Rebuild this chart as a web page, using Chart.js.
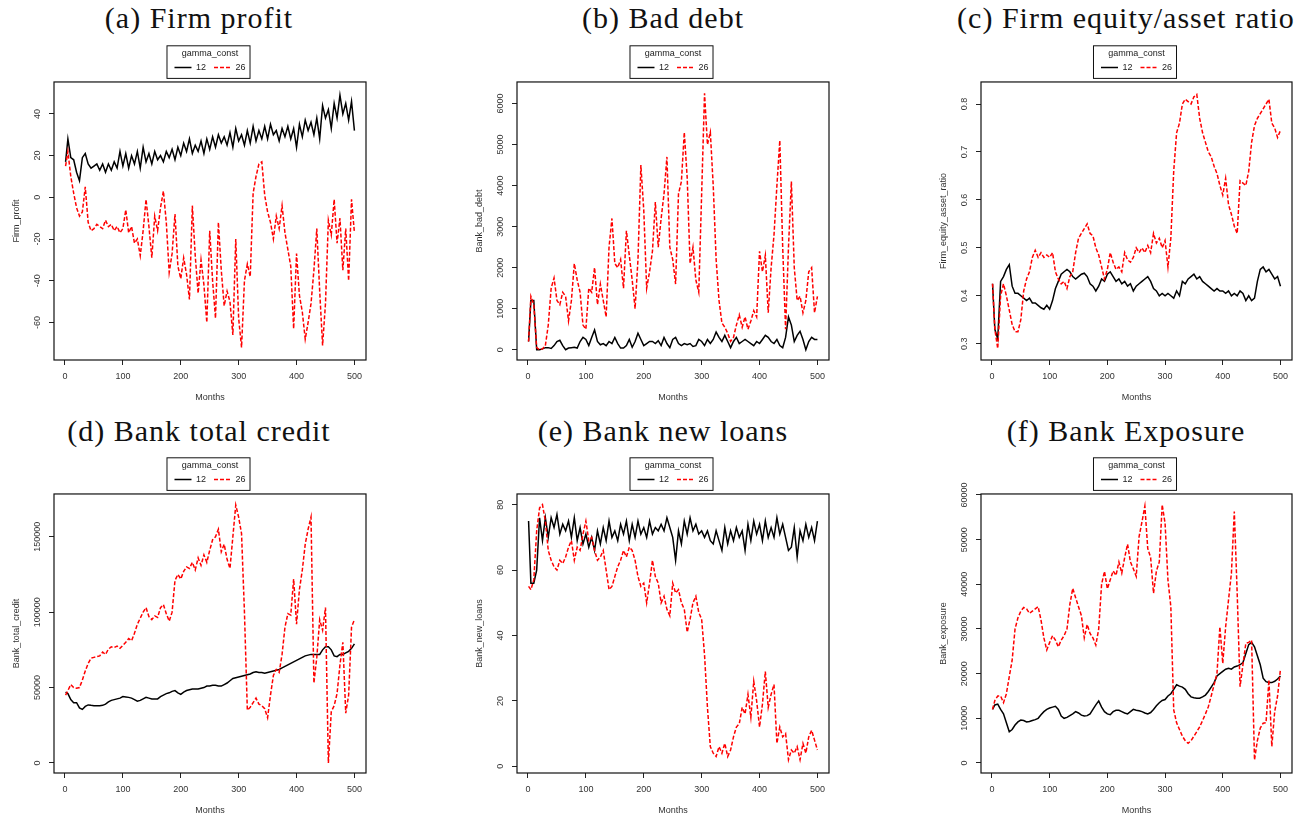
<!DOCTYPE html>
<html>
<head>
<meta charset="utf-8">
<script src="https://cdn.jsdelivr.net/npm/chart.js@4.4.1/dist/chart.umd.min.js"></script>
<style>
  body { margin: 0; background: #fff; width: 1316px; height: 823px; position: relative; overflow: hidden; }
  canvas { position: absolute; }
  .cap { position: absolute; font-family: "Liberation Serif", serif; font-size: 30px; line-height: 30px;
         letter-spacing: 1px; color: #111; white-space: nowrap; transform: translateX(-50%); }
</style>
</head>
<body>
<div class="cap" style="left:199px;top:3px">(a) Firm profit</div>
<div class="cap" style="left:663px;top:3px">(b) Bad debt</div>
<div class="cap" style="left:1126px;top:3px">(c) Firm equity/asset ratio</div>
<div class="cap" style="left:199px;top:416px">(d) Bank total credit</div>
<div class="cap" style="left:663px;top:416px">(e) Bank new loans</div>
<div class="cap" style="left:1126px;top:416px">(f) Bank Exposure</div>
<canvas id="pa"></canvas>
<canvas id="pb"></canvas>
<canvas id="pc"></canvas>
<canvas id="pd"></canvas>
<canvas id="pe"></canvas>
<canvas id="pf"></canvas>
<script>
const months = [1,5,10,15,20,25,30,35,40,45, 50,55,60,65,70,75,80,85,90,95,
  100,105,110,115,120,125,130,135,140,145, 150,155,160,165,170,175,180,185,190,195,
  200,205,210,215,220,225,230,235,240,245, 250,255,260,265,270,275,280,285,290,295,
  300,305,310,315,320,325,330,335,340,345, 350,355,360,365,370,375,380,385,390,395,
  400,405,410,415,420,425,430,435,440,445, 450,455,460,465,470,475,480,485,490,495, 500];

const monthTicks = [0, 100, 200, 300, 400, 500];

// (a) Firm profit
const profit12 = [17,28,19,18,12,8,19,21,16,14, 15,16,13,16,12,16,13,17,14,22,
  15,21,14,20,16,22,14,24,17,21, 16,22,18,20,17,22,19,23,18,24,
  20,26,22,28,21,25,22,27,21,28, 23,29,24,30,26,29,25,31,24,33,
  27,30,25,32,26,34,27,32,28,34, 28,35,30,32,27,33,29,34,28,33,
  24,35,29,37,32,36,30,38,28,44, 38,42,33,45,38,49,40,45,37,46, 32];
const profit26 = [15,22,10,2,-5,-9,-7,5,-12,-16, -15,-13,-14,-15,-11,-14,-13,-16,-14,-17,
  -15,-6,-17,-14,-22,-20,-28,-16,-1,-14, -29,-9,-16,-5,3,-12,-36,-27,-8,-33,
  -39,-29,-37,-49,-4,-28,-46,-30,-42,-60, -16,-40,-58,-12,-35,-52,-45,-50,-66,-20,
  -58,-72,-40,-32,-38,2,10,16,17,1, -7,-12,-20,-9,-15,-4,-17,-25,-33,-63,
  -27,-47,-55,-68,-60,-51,-35,-15,-45,-71, -51,-11,-18,-1,-22,-10,-35,-15,-40,-1, -17];
const profitTicks = [-60, -40, -20, 0, 20, 40];

// (b) Bad debt
const badDebt12 = [200,1200,1200,0,0,20,50,50,30,100, 200,230,100,0,40,50,60,40,200,300,
  250,100,300,480,200,120,150,100,200,150, 300,150,40,40,100,250,60,200,400,250,
  100,150,200,200,150,220,100,300,150,50, 250,300,150,100,150,120,150,80,100,250,
  200,100,250,150,250,430,300,200,350,200, 50,200,300,150,200,250,200,150,100,200,
  150,250,350,300,200,150,250,100,50,300, 800,600,200,350,450,250,0,200,300,250, 250];
const badDebt26 = [200,1300,1100,50,0,20,100,600,1500,1750, 1200,1100,1400,1300,700,1200,2100,1700,1400,600,
  500,1500,1400,2000,1100,1600,1200,800,2500,3200, 2100,2000,2200,1500,2900,2300,1700,1000,2200,4500,
  3400,1500,1900,2400,3600,2500,3200,3800,4700,2500, 2200,1600,3800,4100,5300,4200,2100,2500,1700,1400,
  3800,6250,5000,5300,4000,2200,1200,650,550,400, 200,300,600,850,550,800,500,700,950,800,
  2400,1900,2300,900,2000,2800,4000,5100,2500,500, 2500,4100,2000,1200,1300,900,1200,1900,2000,900, 1300];
const badDebtTicks = [0, 1000, 2000, 3000, 4000, 5000, 6000];

// (c) Firm equity/asset ratio
const equity12 = [0.425,0.33,0.31,0.43,0.44,0.455,0.465,0.42,0.405,0.405,
  0.40,0.395,0.39,0.395,0.385,0.385,0.38,0.375,0.372,0.38,
  0.372,0.39,0.415,0.43,0.445,0.45,0.455,0.45,0.44,0.435,
  0.44,0.445,0.447,0.44,0.425,0.42,0.41,0.42,0.435,0.43,
  0.445,0.45,0.44,0.43,0.435,0.425,0.43,0.42,0.425,0.41,
  0.42,0.425,0.43,0.435,0.44,0.43,0.415,0.41,0.40,0.405,
  0.40,0.405,0.40,0.395,0.41,0.40,0.43,0.425,0.435,0.44,
  0.445,0.435,0.44,0.43,0.425,0.42,0.415,0.41,0.415,0.41,
  0.41,0.405,0.41,0.40,0.405,0.40,0.41,0.405,0.39,0.40,
  0.39,0.395,0.43,0.455,0.46,0.45,0.455,0.445,0.435,0.44, 0.42];
const equity26 = [0.425,0.33,0.29,0.40,0.425,0.40,0.37,0.34,0.325,0.325,
  0.35,0.41,0.435,0.45,0.48,0.495,0.48,0.49,0.48,0.485,
  0.48,0.49,0.45,0.435,0.425,0.43,0.415,0.44,0.45,0.49,
  0.52,0.53,0.54,0.55,0.53,0.525,0.50,0.485,0.46,0.435,
  0.455,0.49,0.47,0.455,0.46,0.45,0.49,0.475,0.47,0.48,
  0.50,0.49,0.50,0.49,0.505,0.49,0.53,0.51,0.52,0.50,
  0.515,0.46,0.52,0.66,0.74,0.76,0.80,0.81,0.805,0.80,
  0.815,0.82,0.77,0.74,0.72,0.70,0.69,0.67,0.655,0.63,
  0.61,0.645,0.59,0.57,0.545,0.53,0.64,0.635,0.63,0.66,
  0.72,0.755,0.77,0.78,0.79,0.80,0.81,0.76,0.75,0.73, 0.745];
const equityTicks = [0.3, 0.4, 0.5, 0.6, 0.7, 0.8];

// (d) Bank total credit
const credit12 = [47000,46000,42000,40000,40000,36500,35500,37500,38500,38200,
  38000,38000,38000,38200,39000,40500,41500,42000,42500,43000,
  44000,43800,43500,43000,42000,41000,41500,42500,43500,43000,
  42500,42500,42500,44000,45000,46000,46500,47500,48000,46500,
  45500,47000,48000,48500,49000,49000,49000,49500,50000,51000,
  51000,51500,51500,51000,51000,52000,53000,54500,56000,56500,
  57000,57500,58000,58500,59000,60000,60500,60000,60000,59500,
  60000,60500,61000,61500,62000,63000,64000,65000,66000,67000,
  68000,69000,70000,71000,71500,72000,72000,72000,72000,75000,
  77000,77000,75000,71000,70500,72000,72000,73000,74000,76000, 79000];
const credit26 = [45000,48000,52000,50000,49500,50000,55000,61000,66000,69500,
  70000,70500,71000,73500,72000,75500,77000,76500,77500,76000,
  78000,80000,82500,81000,86000,92000,96000,100000,103000,97000,
  95000,97500,96500,103000,105000,99000,94000,100000,121000,125000,
  122000,127000,130000,129000,133000,128000,136000,131000,138000,133000,
  141000,148000,150000,155000,140000,145000,135000,129000,150000,171000,
  163000,152000,100000,35000,37000,40000,43000,39000,38000,36000,
  30000,45000,58000,62000,60000,72000,90000,99000,98000,122000,
  92000,115000,128000,145000,155000,163000,53000,70000,95000,88000,
  103000,0,34000,38000,46000,65000,80000,33000,45000,90000, 95000];
const creditTicks = [0, 50000, 100000, 150000];

// (e) Bank new loans
const newLoans12 = [75,56,56,60,76,69,76,70,76,73, 77,71,74,72,75,70,76,69,73,68,
  71,67,70,66,72,68,73,69,75,70, 72,69,74,71,75,69,74,70,75,71,
  73,70,75,71,73,72,74,72,76,73, 70,63,72,68,75,71,76,72,74,71,
  72,70,72,69,68,72,69,66,73,68, 72,69,73,70,72,66,74,69,75,71,
  74,69,75,70,73,70,76,71,74,70, 66,67,73,64,72,69,74,70,73,69, 75];
const newLoans26 = [55,54,57,72,79,80,75,66,63,61, 60,63,62,64,67,69,63,67,66,71,
  75,69,70,66,63,64,66,60,54,55, 58,61,63,66,64,67,66,63,58,55,
  56,50,56,63,58,56,50,52,48,46, 56,53,54,50,48,41,45,50,52,47,
  45,34,18,6,4,3,6,4,7,3, 5,9,12,13,18,16,22,15,26,20,
  12,19,29,18,22,25,7,12,9,10, 2,5,4,6,2,7,4,9,11,8, 5];
const newLoansTicks = [0, 20, 40, 60, 80];

// (f) Bank exposure
const exposure12 = [12000,13000,13200,12000,11000,9000,7000,7500,8500,9200,
  9600,9500,9200,9300,9500,9700,10000,10800,11500,12000,
  12300,12500,12700,12000,10500,10000,10200,10600,11000,11500,
  11200,10700,10500,10600,11000,12000,13000,13900,12500,11500,
  11000,10800,11500,11800,11800,11500,11200,11000,11500,12000,
  11800,11700,11500,11200,11000,11300,12000,12800,13500,14000,
  14200,15000,15500,16500,17500,17200,17000,16500,15500,14800,
  14600,14500,14500,14800,15200,16000,17000,18000,19500,20000,
  20500,21000,21200,21000,21500,21700,22000,22500,24500,26500,
  27000,26000,24000,22000,19000,18200,18000,18000,18300,18800, 19500];
const exposure26 = [12000,14000,15000,15000,13500,15500,19350,23000,30000,32500,
  34000,34800,34500,33500,34000,34500,35000,32000,28000,25300,
  27000,28500,27500,26000,27500,28500,30000,35500,39100,37000,
  35000,33000,28000,31000,29000,28000,26400,30000,40000,42900,
  39000,41000,43000,42000,45000,42500,46000,49000,45000,43500,
  41800,50700,54000,57500,48000,46000,38000,43000,45000,57800,
  53700,41000,35000,11900,9000,7500,6000,5000,4400,5000,
  6000,7000,8100,9500,11000,12600,15000,17500,20100,30500,
  22300,30500,36500,42500,56300,38000,17100,22000,26800,27000,
  27500,700,5000,7800,8900,9000,18600,3700,11500,15000, 21000];
const exposureTicks = [0, 10000, 20000, 30000, 40000, 50000, 60000];

const panels = [
  { id: 'pa', left: 54, top: 82, w: 312, h: 278, ylab: 'Firm_profit', s12: profit12, s26: profit26, ticks: profitTicks, min: -78, max: 55.3 },
  { id: 'pb', left: 517, top: 82, w: 312, h: 278, ylab: 'Bank_bad_debt', s12: badDebt12, s26: badDebt26, ticks: badDebtTicks, min: -251, max: 6527 },
  { id: 'pc', left: 981, top: 82, w: 311, h: 278, ylab: 'Firm_equity_asset_ratio', s12: equity12, s26: equity26, ticks: equityTicks, min: 0.266, max: 0.846 },
  { id: 'pd', left: 54, top: 494, w: 312, h: 279, ylab: 'Bank_total_credit', s12: credit12, s26: credit26, ticks: creditTicks, min: -6640, max: 178340 },
  { id: 'pe', left: 517, top: 494, w: 312, h: 279, ylab: 'Bank_new_loans', s12: newLoans12, s26: newLoans26, ticks: newLoansTicks, min: -2.05, max: 83.27 },
  { id: 'pf', left: 981, top: 494, w: 311, h: 279, ylab: 'Bank_exposure', s12: exposure12, s26: exposure26, ticks: exposureTicks, min: -2240, max: 60224 }
];

Chart.defaults.font.family = 'Liberation Sans';
Chart.defaults.font.size = 9;

const TXT = '#333';
const MARGIN = 50;

// plot box, legend frame and R-style vertical y tick labels
const rFrame = {
  id: 'rFrame',
  afterDraw(chart) {
    const { ctx, chartArea: a, legend: lg } = chart;
    ctx.save();
    ctx.strokeStyle = '#111';
    ctx.lineWidth = 1.2;
    ctx.strokeRect(a.left, a.top, a.right - a.left, a.bottom - a.top);
    const hb = lg.legendHitBoxes;
    const last = hb[hb.length - 1];
    const l = hb[0].left - 7.5, r = last.left + last.width + 4.5;
    ctx.lineWidth = 1;
    ctx.strokeRect(l, lg.top, r - l, 32.6);
    const y = chart.scales.y;
    ctx.fillStyle = TXT;
    ctx.font = '9px "Liberation Sans"';
    ctx.textAlign = 'center';
    ctx.textBaseline = 'middle';
    y.ticks.forEach(t => {
      ctx.save();
      ctx.translate(a.left - 16, y.getPixelForValue(t.value));
      ctx.rotate(-Math.PI / 2);
      ctx.fillText(String(t.value), 0, 0);
      ctx.restore();
    });
    ctx.restore();
  }
};

const axisGrid = { display: true, drawOnChartArea: false, drawTicks: true, tickLength: 5, color: '#222', lineWidth: 1 };

// legend samples keep the dataset's dash pattern
const legendLabels = chart => Chart.defaults.plugins.legend.labels.generateLabels(chart).map(item => {
  const ds = chart.data.datasets[item.datasetIndex];
  return Object.assign(item, { lineDash: ds.borderDash || [], lineWidth: ds.borderWidth, strokeStyle: ds.borderColor });
});

panels.forEach(p => {
  const cv = document.getElementById(p.id);
  cv.width = MARGIN + p.w + 4;
  cv.height = MARGIN + p.h + 50;
  cv.style.left = (p.left - MARGIN) + 'px';
  cv.style.top = (p.top - 50) + 'px';

  new Chart(cv, {
    type: 'line',
    data: {
      datasets: [
        { label: '12', data: months.map((m, i) => ({ x: m, y: p.s12[i] })),
          borderColor: '#000', borderWidth: 1.5, pointRadius: 0, pointStyle: 'line', order: 1 },
        { label: '26', data: months.map((m, i) => ({ x: m, y: p.s26[i] })),
          borderColor: '#ff0000', borderWidth: 1.5, borderDash: [4, 2], pointRadius: 0, pointStyle: 'line', order: 0 }
      ]
    },
    options: {
      responsive: false,
      animation: false,
      devicePixelRatio: 1,
      events: [],
      layout: { padding: { left: 0, right: 4, top: 13.8, bottom: 0 } },
      plugins: {
        tooltip: { enabled: false },
        legend: {
          position: 'top', align: 'center', fullSize: false,
          labels: {
            usePointStyle: true, pointStyleWidth: 17, boxHeight: 9, padding: 8, color: '#222',
            font: { size: 9 },
            generateLabels: legendLabels,
            sort: (a, b) => a.datasetIndex - b.datasetIndex
          },
          title: { display: true, text: 'gamma_const', color: '#222', padding: { top: 3.5, bottom: 0 },
                   font: { size: 9, lineHeight: 0.63 } }
        }
      },
      scales: {
        x: {
          type: 'linear', min: -19, max: 520,
          afterBuildTicks: s => { s.ticks = monthTicks.map(v => ({ value: v })); },
          afterFit: s => { s.height = 50; },
          grid: axisGrid,
          border: { display: false },
          ticks: { color: TXT, padding: 6.3, maxRotation: 0, autoSkip: false, callback: v => String(v) },
          title: { display: true, text: 'Months', color: TXT, padding: { top: 0, bottom: 6.6 } }
        },
        y: {
          type: 'linear', min: p.min, max: p.max,
          afterBuildTicks: s => { s.ticks = p.ticks.map(v => ({ value: v })); },
          afterFit: s => { s.width = MARGIN; },
          grid: axisGrid,
          border: { display: false },
          ticks: { display: false },
          title: { display: true, text: p.ylab, color: TXT, padding: { top: 7.1, bottom: 0 } }
        }
      }
    },
    plugins: [rFrame]
  });
});
</script>
</body>
</html>
